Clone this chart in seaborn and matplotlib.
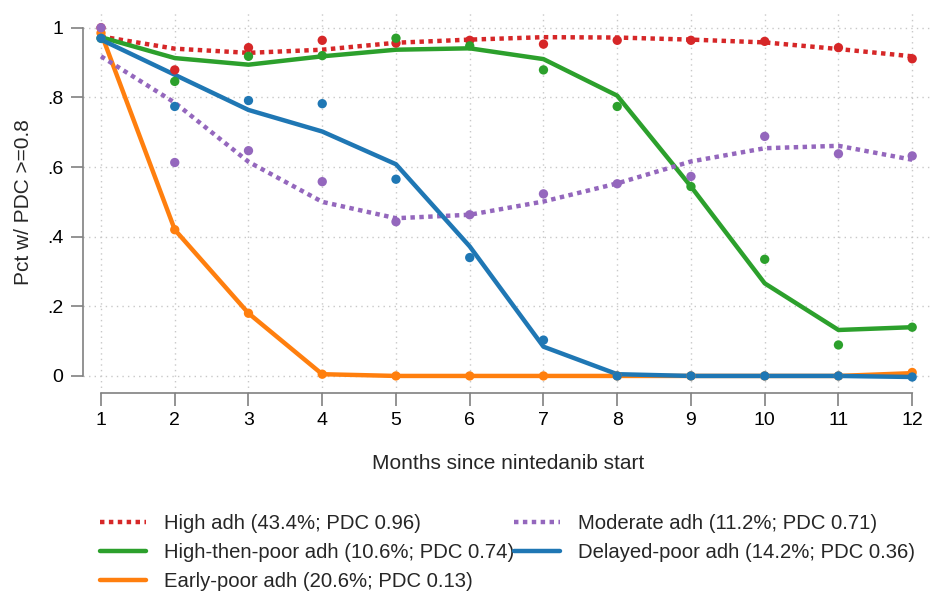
import numpy as np
import pandas as pd
import matplotlib
matplotlib.use("Agg")
import matplotlib.pyplot as plt
import seaborn as sns

months = list(range(1, 13))

groups = [
    "High adh (43.4%; PDC 0.96)",
    "High-then-poor adh (10.6%; PDC 0.74)",
    "Early-poor adh (20.6%; PDC 0.13)",
    "Moderate adh (11.2%; PDC 0.71)",
    "Delayed-poor adh (14.2%; PDC 0.36)",
]

# fitted trajectories
fit_high = [0.975, 0.94, 0.928, 0.937, 0.957, 0.966, 0.973, 0.972, 0.966, 0.958, 0.939, 0.918]
fit_htp = [0.973, 0.913, 0.894, 0.918, 0.937, 0.941, 0.910, 0.805, 0.544, 0.266, 0.132, 0.140]
fit_early = [0.985, 0.42, 0.18, 0.005, 0.0, 0.0, 0.0, 0.0, 0.0, 0.0, 0.0, 0.008]
fit_mod = [0.918, 0.785, 0.615, 0.50, 0.453, 0.463, 0.501, 0.553, 0.616, 0.654, 0.661, 0.621]
fit_delayed = [0.966, 0.865, 0.764, 0.702, 0.608, 0.372, 0.084, 0.005, 0.0, 0.0, 0.0, -0.003]

# observed proportions
obs_high = [1.0, 0.879, 0.943, 0.964, 0.956, 0.964, 0.953, 0.964, 0.964, 0.961, 0.943, 0.911]
obs_htp = [0.97, 0.846, 0.918, 0.92, 0.970, 0.948, 0.879, 0.774, 0.544, 0.335, 0.089, 0.140]
obs_early = [0.985, 0.42, 0.18, 0.005, 0.0, 0.0, 0.0, 0.0, 0.0, 0.0, 0.0, 0.01]
obs_mod = [1.0, 0.613, 0.647, 0.558, 0.443, 0.463, 0.523, 0.552, 0.573, 0.688, 0.638, 0.632]
obs_delayed = [0.97, 0.774, 0.791, 0.782, 0.565, 0.340, 0.103, 0.0, 0.0, 0.0, 0.0, -0.003]

fits = [fit_high, fit_htp, fit_early, fit_mod, fit_delayed]
obs = [obs_high, obs_htp, obs_early, obs_mod, obs_delayed]
colors = ["#d62728", "#2ca02c", "#ff7f0e", "#9467bd", "#1f77b4"]
dotted = [True, False, False, True, False]

sns.set_theme(style="white")
plt.rcParams["font.family"] = ["Liberation Sans", "DejaVu Sans"]

fig = plt.figure(figsize=(9.38, 5.96), dpi=100)
ax = fig.add_axes([0.0885, 0.3406, 0.906, 0.642])

for name, f, o, c, d in zip(groups, fits, obs, colors, dotted):
    df = pd.DataFrame({"month": months, "fit": f, "obs": o})
    sns.scatterplot(data=df, x="month", y="obs", color=c, s=45, edgecolor="none",
                    ax=ax, zorder=3)
    sns.lineplot(data=df, x="month", y="fit", color=c, lw=3.2, ax=ax, label=name,
                 linestyle=(0, (1, 1)) if d else "-", zorder=2)

ax.set_xlim(0.756, 12.28)
ax.set_ylim(-0.049, 1.05)
ax.set_xticks(months)
ax.set_yticks([0, 0.2, 0.4, 0.6, 0.8, 1.0])
ax.set_yticklabels(["0", ".2", ".4", ".6", ".8", "1"])
ax.grid(True, linestyle=(0, (1, 3)), color="#c8c8c8", lw=1)
ax.set_axisbelow(True)

for s in ["top", "right"]:
    ax.spines[s].set_visible(False)
for s in ["left", "bottom"]:
    ax.spines[s].set_color("#808080")
    ax.spines[s].set_linewidth(1.2)
ax.spines["bottom"].set_bounds(1, 12)
ax.spines["left"].set_bounds(0, 1)
ax.tick_params(axis="both", direction="out", length=9, width=1.2, color="#808080",
               labelsize=14, labelcolor="black", bottom=True, left=True, pad=5)

ax.set_xlabel("Months since nintedanib start", fontsize=15, labelpad=18)
ax.set_ylabel("Pct w/ PDC >=0.8", fontsize=15, labelpad=10)

handles, labels = ax.get_legend_handles_labels()
ax.get_legend().remove()
fig.legend(handles, labels, loc="upper left", bbox_to_anchor=(100 / 938, 1 - 514 / 596),
           ncol=2, frameon=False, fontsize=14.6, handlelength=2.25, handletextpad=0.9,
           columnspacing=0.0, labelspacing=0.5, borderpad=0, borderaxespad=0)

fig.savefig("out.png", dpi=100)
